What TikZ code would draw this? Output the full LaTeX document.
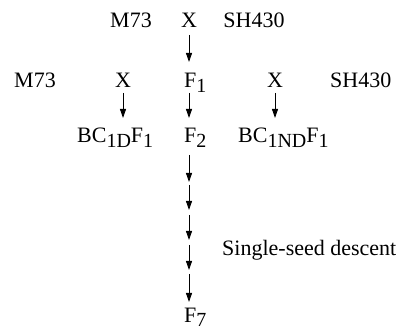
\documentclass[tikz,border=0pt]{standalone}
\usepackage{fontspec}
\setmainfont{Liberation Serif}
\usetikzlibrary{arrows.meta}
\newcommand\lowsub[1]{\raisebox{-4.5pt}{\fontsize{20}{20}\selectfont #1}}
\tikzset{
  lbl/.style={inner sep=0pt, font=\fontsize{22}{22}\selectfont},
  arr/.style={line width=0.9pt, -{Triangle[length=9pt,width=6pt]}}
}
\begin{document}
\begin{tikzpicture}[x=1pt,y=1pt]
\useasboundingbox (0,0) rectangle (403,331);
% row 1
\node[lbl, anchor=base] (m1) at (131,303) {M73};
\node[lbl, anchor=base] (x1) at (189,303) {X};
\node[lbl, anchor=base] (s1) at (254,303) {SH430};
% row 2
\node[lbl, anchor=base west] (m2) at (14,243) {M73};
\node[lbl, anchor=base] (x2) at (123,243) {X};
\node[lbl, anchor=base west] (f1) at (184,243) {F\lowsub{1}};
\node[lbl, anchor=base] (x3) at (275,243) {X};
\node[lbl, anchor=base west] (s2) at (330,243) {SH430};
% row 3
\node[lbl, anchor=base west] (bcd) at (77,188) {BC\lowsub{1D}F\lowsub{1}};
\node[lbl, anchor=base west] (f2) at (184,188) {F\lowsub{2}};
\node[lbl, anchor=base west] (bcnd) at (238,188) {BC\lowsub{1ND}F\lowsub{1}};
% bottom
\node[lbl, anchor=base west] (ssd) at (222,75) {Single-seed descent};
\node[lbl, anchor=base west] (f7) at (184,9) {F\lowsub{7}};
% arrow end points
\coordinate (a0s) at (189,296); \coordinate (a0e) at (189,269);
\coordinate (a1s) at (123,238); \coordinate (a1e) at (123,213);
\coordinate (a2s) at (189,238); \coordinate (a2e) at (189,213);
\coordinate (a3s) at (275,238); \coordinate (a3e) at (275,213);
\coordinate (c1s) at (189,176); \coordinate (c1e) at (189,149);
\coordinate (c2s) at (189,146); \coordinate (c2e) at (189,121);
\coordinate (c3s) at (189,116); \coordinate (c3e) at (189,91);
\coordinate (c4s) at (189,86);  \coordinate (c4e) at (189,61);
\coordinate (c5s) at (189,57);  \coordinate (c5e) at (189,29);
\draw[arr] (a0s) -- (a0e);
\draw[arr] (a1s) -- (a1e);
\draw[arr] (a2s) -- (a2e);
\draw[arr] (a3s) -- (a3e);
\draw[arr] (c1s) -- (c1e);
\draw[arr] (c2s) -- (c2e);
\draw[arr] (c3s) -- (c3e);
\draw[arr] (c4s) -- (c4e);
\draw[arr] (c5s) -- (c5e);
\end{tikzpicture}
\end{document}
